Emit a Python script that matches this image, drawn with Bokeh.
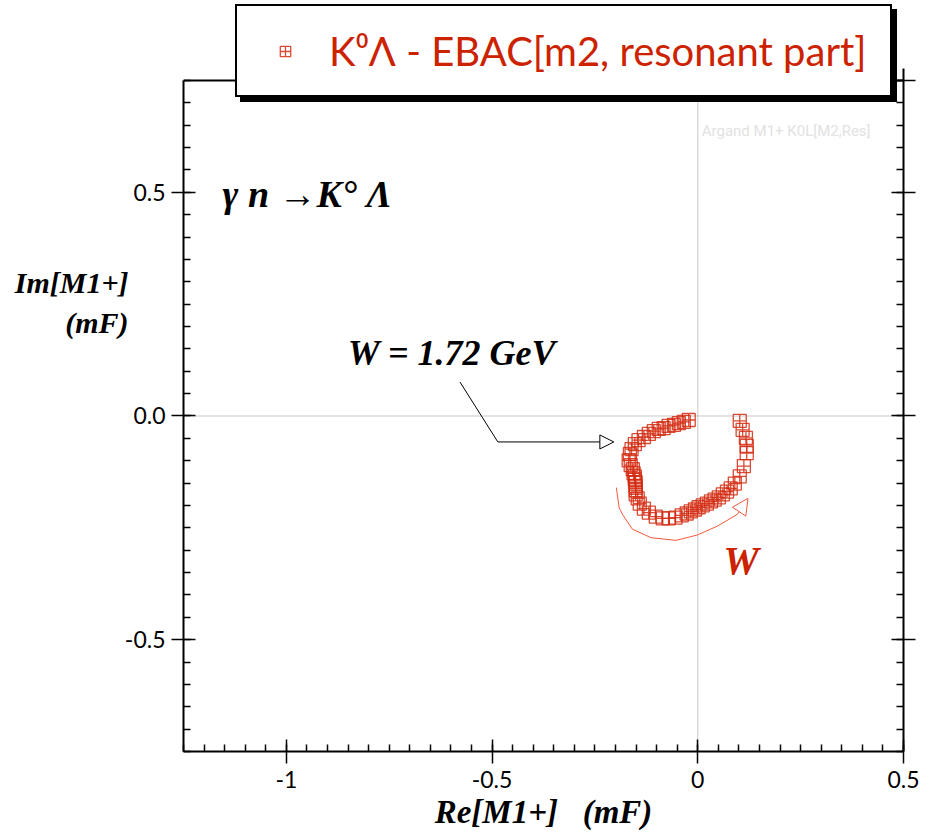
from bokeh.plotting import figure
from bokeh.models import (Range1d, LinearAxis, FixedTicker, Span, Label, Legend,
                          LegendItem, Arrow, NormalHead)
from bokeh.embed import file_html
from bokeh.resources import INLINE

# ---- data ----
re_m1 = [-0.022, -0.034, -0.046, -0.058, -0.071, -0.083, -0.095, -0.107, -0.119, -0.131,
         -0.144, -0.153, -0.161, -0.165, -0.168, -0.163, -0.158, -0.156, -0.153, -0.153,
         -0.151, -0.151, -0.151, -0.151, -0.146, -0.141, -0.131, -0.119, -0.102, -0.085,
         -0.071, -0.054, -0.039, -0.027, -0.017, -0.007, 0.002, 0.012, 0.022, 0.032,
         0.041, 0.051, 0.061, 0.071, 0.080, 0.090, 0.102, 0.112, 0.119, 0.119,
         0.117, 0.109, 0.102]
im_m1 = [-0.009, -0.013, -0.016, -0.020, -0.022, -0.027, -0.029, -0.034, -0.040, -0.047,
         -0.054, -0.063, -0.074, -0.085, -0.099, -0.110, -0.119, -0.128, -0.135, -0.142,
         -0.148, -0.157, -0.166, -0.175, -0.184, -0.196, -0.207, -0.216, -0.225, -0.229,
         -0.229, -0.227, -0.222, -0.218, -0.213, -0.209, -0.204, -0.200, -0.196, -0.191,
         -0.187, -0.182, -0.175, -0.169, -0.162, -0.151, -0.135, -0.112, -0.083, -0.067,
         -0.049, -0.031, -0.011]
series_name = "K\u2070\u039b - EBAC[m2, resonant part]"
x_major = [-1, -0.5, 0, 0.5]
x_tick_labels = {-1: "-1", -0.5: "-0.5", 0: "0", 0.5: "0.5"}
y_major = [-0.5, 0, 0.5]
y_tick_labels = {-0.5: "-0.5", 0: "0.0", 0.5: "0.5"}
x_minor = [round(-1.25 + 0.05 * i, 2) for i in range(36)]
y_minor = [round(-0.75 + 0.05 * i, 2) for i in range(31)]

X_MIN, X_MAX = -1.25, 0.5
Y_MIN, Y_MAX = -0.75, 0.75
Y_TOP_ROOM = 0.9288     # frame reaches the page top so the legend box is not clipped

RED = "#d42a10"
SERIF = "Liberation Serif"
SANS = "Lato"

p = figure(width=940, height=839, x_range=Range1d(X_MIN, X_MAX), y_range=Range1d(Y_MIN, Y_TOP_ROOM),
           output_backend="svg", toolbar_location=None,
           x_axis_location=None, y_axis_location=None,
           min_border_left=183, min_border_right=37, min_border_top=0, min_border_bottom=88)
p.grid.visible = False
p.outline_line_color = None
p.background_fill_color = "white"
p.border_fill_color = "white"


def style_axis(ax, show_labels, ticks):
    ax.axis_line_color = "black"
    ax.axis_line_width = 2
    ax.major_tick_line_color = "black"
    ax.minor_tick_line_color = "black"
    ax.major_tick_line_width = 1.5
    ax.minor_tick_line_width = 1.5
    ax.major_tick_in = 12
    ax.major_tick_out = 12
    ax.minor_tick_in = 7
    ax.minor_tick_out = 0
    if show_labels:
        ax.major_label_text_font = SANS
        ax.major_label_text_font_size = "23px"
        ax.major_label_text_color = "black"
    else:
        ax.major_label_overrides = {t: "" for t in ticks}
        ax.major_label_standoff = 0


xb = LinearAxis(ticker=FixedTicker(ticks=x_major, minor_ticks=x_minor),
                major_label_overrides=x_tick_labels)
style_axis(xb, True, x_major)
xb.major_label_standoff = 7
xb.axis_label = "Re[M1+]\u00a0\u00a0\u00a0(mF)"
xb.axis_label_text_font = SERIF
xb.axis_label_text_font_style = "bold italic"
xb.axis_label_text_font_size = "33px"
xb.axis_label_text_color = "black"
xb.axis_label_standoff = 3
p.add_layout(xb, "below")

yl = LinearAxis(ticker=FixedTicker(ticks=y_major, minor_ticks=y_minor),
                major_label_overrides=y_tick_labels, bounds=(Y_MIN, Y_MAX))
style_axis(yl, True, y_major)
yl.major_label_standoff = 6
p.add_layout(yl, "left")

yr = LinearAxis(ticker=FixedTicker(ticks=y_major + [0.75], minor_ticks=y_minor),
                bounds=(Y_MIN, 0.777))
style_axis(yr, False, y_major + [0.75])
p.add_layout(yr, "right")

# top edge of the plotting box
p.add_layout(Span(location=Y_MAX, dimension="width", line_color="black", line_width=2))

# y-axis title, in the left panel so it is not clipped
p.add_layout(Label(x=-1.3837, y=0.2537, text="Im[M1+]\n(mF)", text_font=SERIF,
                   text_font_style="bold italic", text_font_size="30px", text_color="black",
                   text_align="right", text_baseline="middle", text_line_height=1.2), "left")

# zero lines
p.add_layout(Span(location=0, dimension="width", line_color="#c8c8c8", line_width=1,
                  level="underlay"))
p.segment(x0=[0], y0=[Y_MIN], x1=[0], y1=[Y_MAX], line_color="#c8c8c8", line_width=1)

# data
r = p.scatter(re_m1, im_m1, marker="square_cross", size=13, fill_alpha=0,
              line_color=RED, line_width=1.3, line_alpha=0.85)

# W direction curve (annotation)
W_CURVE_X = [-0.198, -0.191, -0.183, -0.159, -0.114, -0.053, -0.001, 0.048, 0.096]
W_CURVE_Y = [-0.160, -0.205, -0.220, -0.253, -0.272, -0.278, -0.266, -0.246, -0.220]
p.line(W_CURVE_X, W_CURVE_Y, line_color="#f05a3c", line_width=1)
p.add_layout(Arrow(end=NormalHead(size=16, line_color="#f05a3c", fill_color="white", line_width=1),
                   x_start=0.096, y_start=-0.220, x_end=0.122, y_end=-0.184,
                   line_color="#f05a3c", line_width=1))

# W = 1.72 GeV pointer
p.add_layout(Arrow(end=None, x_start=-0.578, y_start=0.076, x_end=-0.486, y_end=-0.058,
                   line_color="black", line_width=1))
p.add_layout(Arrow(end=NormalHead(size=14, line_color="black", fill_color="white", line_width=1),
                   x_start=-0.486, y_start=-0.058, x_end=-0.204, y_end=-0.058,
                   line_color="black", line_width=1))


def lab(x, y, text, size, color="black", font=SERIF, style="bold italic", align="left"):
    p.add_layout(Label(x=x, y=y, text=text, text_font=font, text_font_style=style,
                       text_font_size=size, text_color=color, text_baseline="middle",
                       text_align=align))


lab(-1.155, 0.497, "\u03b3 n \u2192K\u00b0 \u039b", "38px")
lab(-0.851, 0.141, "W = 1.72 GeV", "36px")
lab(0.105, -0.324, "W", "40px", color="#cc2200", align="center")
lab(0.42, 0.637, "Argand M1+ K0L[M2,Res]", "15px", color="#e2e2e2", font="Roboto",
    style="normal", align="right")

# legend with a drop shadow
dummy = p.scatter([], [], marker="square_cross", size=1, alpha=0)
common = dict(padding=18, margin=0, glyph_width=60, glyph_height=26, label_standoff=14,
              label_width=543, label_height=53,
              label_text_font=SANS, label_text_font_size="40px",
              border_line_color="black", border_line_width=2, border_line_alpha=1.0,
              background_fill_alpha=1.0)
shadow = Legend(items=[LegendItem(label=" ", renderers=[dummy])],
                location=(57, 649), background_fill_color="black", **common)
legend = Legend(items=[LegendItem(label=series_name, renderers=[r])],
                location=(52, 654), background_fill_color="white",
                label_text_color="#cc2200", **common)
p.add_layout(shadow)
p.add_layout(legend)

open("out.html", "w").write(file_html(p, INLINE))
